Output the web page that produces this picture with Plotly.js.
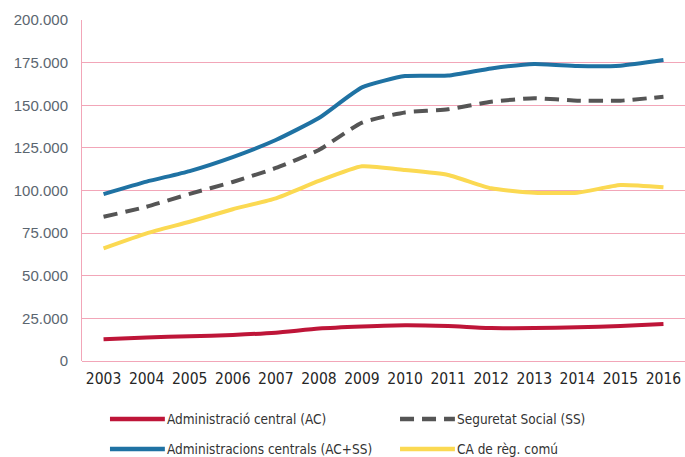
<!DOCTYPE html>
<html>
<head>
<meta charset="utf-8">
<script src="https://cdn.plot.ly/plotly-3.0.1.min.js"></script>
<style>
  html, body { margin: 0; padding: 0; background: #fff; }
  #chart { width: 685px; height: 457px; }
</style>
</head>
<body>
<div id="chart"></div>
<script>
// Years on the category axis
const years = ['2003','2004','2005','2006','2007','2008','2009','2010','2011','2012','2013','2014','2015','2016'];

// Series values
const adminCentral = [12700, 13800, 14500, 15300, 16600, 19000, 20200, 21000, 20500, 19300, 19300, 19800, 20500, 21700];
const seguretatSocial = [84600, 90500, 98000, 105000, 113200, 123800, 139800, 145800, 147600, 152100, 154100, 152700, 152700, 155000];
const adminCentrals = [97900, 105200, 111400, 119600, 129600, 142500, 160500, 167100, 167400, 171600, 174200, 173000, 173200, 176500];
const caRegComu = [66100, 74900, 81700, 89000, 95400, 105600, 114200, 112000, 109100, 101300, 98700, 98700, 103200, 101900];

// Legend labels
const names = ['Administració central (AC)', 'Seguretat Social (SS)', 'Administracions centrals (AC+SS)', 'CA de règ. comú'];

const condensed = '"DejaVu Sans Condensed", "Liberation Sans Narrow", sans-serif';

const styles = [
  { color: '#BE1538', dash: 'solid' },
  { color: '#555555', dash: '14px,8px' },
  { color: '#1F72A3', dash: 'solid' },
  { color: '#FBD952', dash: 'solid' }
];
const values = [adminCentral, seguretatSocial, adminCentrals, caRegComu];

const traces = values.map((y, i) => ({
  x: years, y: y, name: names[i], type: 'scatter', mode: 'lines',
  line: { color: styles[i].color, width: 4, dash: styles[i].dash, shape: 'spline', smoothing: 0.5 },
  hoverinfo: 'skip', showlegend: false
}));

// Two-row, two-column key below the plot (paper coordinates)
const keyCols = [0.0464, 0.5274];   // left end of each key line
const keyRows = [-0.170, -0.258];   // vertical centre of each row
const keyLen = 0.091;               // length of a key line
const shapes = [];
const annotations = [];
names.forEach((name, i) => {
  const col = i % 2, row = Math.floor(i / 2);
  shapes.push({
    type: 'line', xref: 'paper', yref: 'paper',
    x0: keyCols[col], x1: keyCols[col] + keyLen, y0: keyRows[row], y1: keyRows[row],
    line: { color: styles[i].color, width: 4.5, dash: styles[i].dash }
  });
  annotations.push({
    xref: 'paper', yref: 'paper', x: keyCols[col] + keyLen + 0.001, y: keyRows[row],
    xanchor: 'left', yanchor: 'middle', showarrow: false, text: name,
    font: { family: condensed, size: 13.5, color: '#333333' }
  });
});

const layout = {
  width: 685, height: 457,
  margin: { l: 82, r: 0, t: 20, b: 96 },
  paper_bgcolor: '#ffffff', plot_bgcolor: '#ffffff',
  separators: ',.',
  showlegend: false,
  shapes: shapes,
  annotations: annotations,
  xaxis: {
    type: 'category', range: [-0.5, 13.5],
    showgrid: false, zeroline: false, showline: false, ticks: '',
    tickfont: { family: condensed, size: 15.5, color: '#262626' },
    ticklabelstandoff: 6, fixedrange: true
  },
  yaxis: {
    range: [0, 200000], dtick: 25000, tickformat: ',d',
    showgrid: true, gridcolor: '#F2A6B8', gridwidth: 1,
    zeroline: true, zerolinecolor: '#F2A6B8', zerolinewidth: 1,
    showline: true, linecolor: '#F2A6B8', linewidth: 1, ticks: '',
    tickfont: { family: 'Liberation Sans, Arial, sans-serif', size: 15, color: '#5B6670' },
    ticklabelstandoff: 10, fixedrange: true
  }
};

Plotly.newPlot('chart', traces, layout, { staticPlot: true, displayModeBar: false });
</script>
</body>
</html>
